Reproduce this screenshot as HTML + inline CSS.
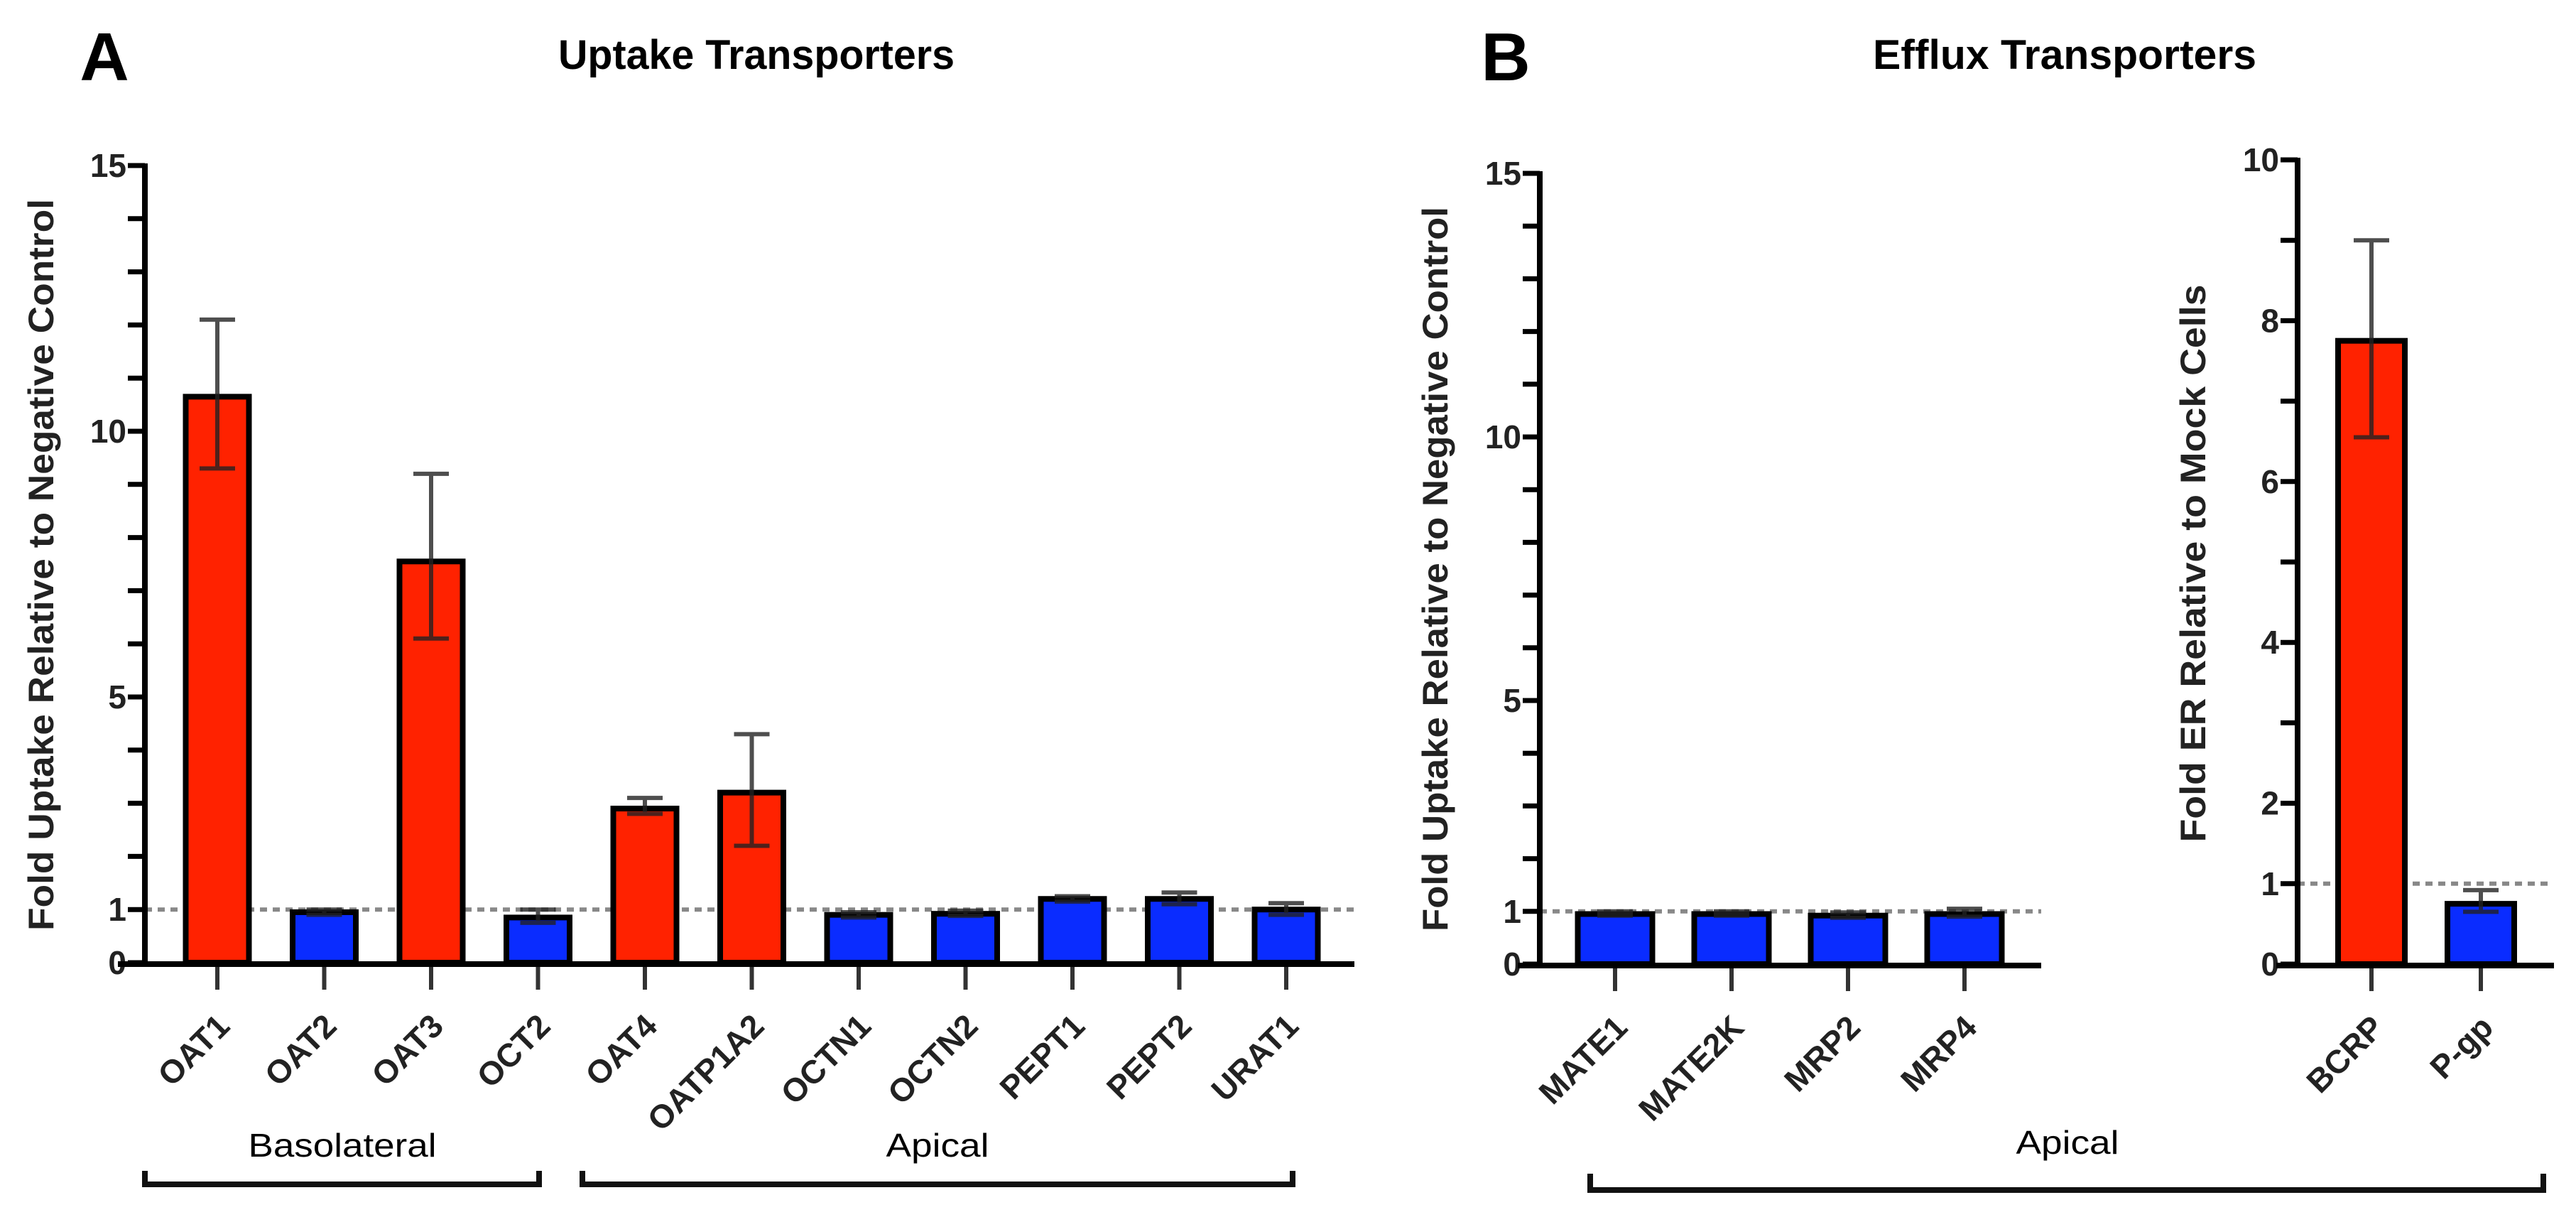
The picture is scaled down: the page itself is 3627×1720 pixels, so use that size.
<!DOCTYPE html>
<html><head><meta charset="utf-8"><style>
html,body{margin:0;padding:0;background:#fff}
svg{display:block;font-family:"Liberation Sans",Arial,sans-serif}
</style></head><body>
<svg id="fig" width="3627" height="1720" viewBox="0 0 3627 1720" xmlns="http://www.w3.org/2000/svg">
<text x="147" y="113" font-size="96" font-weight="bold" text-anchor="middle">A</text>
<text x="1065" y="97" font-size="58" font-weight="bold" text-anchor="middle" textLength="558" lengthAdjust="spacingAndGlyphs">Uptake Transporters</text>
<text x="2120" y="113" font-size="96" font-weight="bold" text-anchor="middle">B</text>
<text x="2907" y="97" font-size="58" font-weight="bold" text-anchor="middle" textLength="540" lengthAdjust="spacingAndGlyphs">Efflux Transporters</text>
<g id="gA"></g>
<g id="gB1"></g>
<g id="gB2"></g>
<text x="482" y="1628" font-size="46" text-anchor="middle" textLength="265" lengthAdjust="spacingAndGlyphs">Basolateral</text>
<path d="M204,1648 V1667 H759 V1648" fill="none" stroke="#111" stroke-width="8"/>
<text x="1320" y="1628" font-size="46" text-anchor="middle" textLength="145" lengthAdjust="spacingAndGlyphs">Apical</text>
<path d="M820,1648 V1667 H1820 V1648" fill="none" stroke="#111" stroke-width="8"/>
<text x="2911" y="1624" font-size="46" text-anchor="middle" textLength="145" lengthAdjust="spacingAndGlyphs">Apical</text>
<path d="M2239,1652 V1675 H3581 V1652" fill="none" stroke="#111" stroke-width="8"/>
</svg>
<script>
const catsA = ["OAT1","OAT2","OAT3","OCT2","OAT4","OATP1A2","OCTN1","OCTN2","PEPT1","PEPT2","URAT1"];
const valsA = [10.65,0.95,7.55,0.85,2.9,3.2,0.9,0.92,1.2,1.2,1.0];
const errHiA = [12.1,1.0,9.2,1.0,3.1,4.3,0.95,0.98,1.25,1.32,1.12];
const errLoA = [9.3,0.9,6.1,0.75,2.8,2.2,0.85,0.88,1.15,1.1,0.9];
const colA = ["r","b","r","b","r","r","b","b","b","b","b"];
const ticksA = [0,1,5,10,15];

const catsB1 = ["MATE1","MATE2K","MRP2","MRP4"];
const valsB1 = [0.95,0.95,0.92,0.95];
const errHiB1 = [1.0,1.0,0.98,1.05];
const errLoB1 = [0.92,0.92,0.88,0.9];
const colB1 = ["b","b","b","b"];
const ticksB1 = [0,1,5,10,15];

const catsB2 = ["BCRP","P-gp"];
const valsB2 = [7.75,0.75];
const errHiB2 = [9.0,0.92];
const errLoB2 = [6.55,0.65];
const colB2 = ["r","b"];
const ticksB2 = [0,1,2,4,6,8,10];

const NS="http://www.w3.org/2000/svg";
function mk(parent,tag,attrs){const e=document.createElementNS(NS,tag);for(const k in attrs)e.setAttribute(k,attrs[k]);parent.appendChild(e);return e;}
const COL={r:"#ff2200",b:"#0a2cff"};

function chart(gid,cfg,cats,vals,hi,lo,cols,ticks){
  const g=document.getElementById(gid);
  const y=v=>cfg.y0-(v/cfg.max)*(cfg.y0-cfg.yTop);
  const x=i=>cfg.x0+i*cfg.step;
  const d=mk(g,"line",{x1:cfg.ax,x2:cfg.dashEnd,y1:y(1),y2:y(1),stroke:"#888","stroke-width":6,"stroke-dasharray":"10 8"});
  
  
  cats.forEach((c,i)=>{
    const cx=x(i),top=y(vals[i]);
    const r=mk(g,"rect",{x:cx-cfg.bw/2,y:top,width:cfg.bw,height:cfg.y0-top,fill:COL[cols[i]],stroke:"#000","stroke-width":8});
    
    
    const e=mk(g,"path",{d:`M${cx},${y(hi[i])}V${y(lo[i])}M${cx-25},${y(hi[i])}H${cx+25}M${cx-25},${y(lo[i])}H${cx+25}`,stroke:"#222","stroke-width":6,fill:"none","stroke-opacity":0.8});
    
    
    const t=mk(g,"line",{x1:cx,x2:cx,y1:cfg.y0,y2:cfg.y0+38,stroke:"#333","stroke-width":6});
    
    
    const lx=cx+20,ly=cfg.y0+92;
    const tx=mk(g,"text",{x:lx,y:ly,"font-size":46,"font-weight":"bold","text-anchor":"end",transform:`rotate(-45 ${lx} ${ly})`,fill:"#222"});
    tx.textContent=c;
    
    
  });
  for(let v=0;v<=cfg.max;v+=1){
    const m=mk(g,"line",{x1:cfg.ax-24,x2:cfg.ax,y1:y(v),y2:y(v),stroke:"#000","stroke-width":7});
    
    
  }
  ticks.forEach(v=>{
    const tl=mk(g,"text",{x:cfg.ax-26,y:y(v)+16,"font-size":46,"font-weight":"bold","text-anchor":"end",fill:"#222"});
    tl.textContent=v;
    
    
  });
  const ya=mk(g,"line",{x1:cfg.ax,x2:cfg.ax,y1:cfg.yTop-3,y2:cfg.y0+4,stroke:"#000","stroke-width":8});
  
  
  const xa=mk(g,"line",{x1:cfg.xs,x2:cfg.xe,y1:cfg.y0+2,y2:cfg.y0+2,stroke:"#000","stroke-width":8});
  
  
  const at=mk(g,"text",{x:cfg.tx,y:cfg.ty,"font-size":50,"font-weight":"bold","text-anchor":"middle",transform:`rotate(-90 ${cfg.tx} ${cfg.ty})`,textLength:cfg.tl,lengthAdjust:"spacingAndGlyphs",fill:"#222"});
  at.textContent=cfg.title;
  
  
}
chart("gA",{ax:204,y0:1355,yTop:233,max:15,x0:306,step:150.5,bw:89,xs:166,xe:1907,dashEnd:1907,tx:75,ty:795,tl:1030,title:"Fold Uptake Relative to Negative Control"},catsA,valsA,errHiA,errLoA,colA,ticksA);
chart("gB1",{ax:2168,y0:1357,yTop:244,max:15,x0:2274,step:164,bw:105,xs:2137,xe:2874,dashEnd:2874,tx:2038,ty:801,tl:1020,title:"Fold Uptake Relative to Negative Control"},catsB1,valsB1,errHiB1,errLoB1,colB1,ticksB1);
chart("gB2",{ax:3235,y0:1357,yTop:225,max:10,x0:3339,step:154,bw:94,xs:3205,xe:3596,dashEnd:3590,tx:3105,ty:793,tl:785,title:"Fold ER Relative to Mock Cells"},catsB2,valsB2,errHiB2,errLoB2,colB2,ticksB2);
</script>
</body></html>
